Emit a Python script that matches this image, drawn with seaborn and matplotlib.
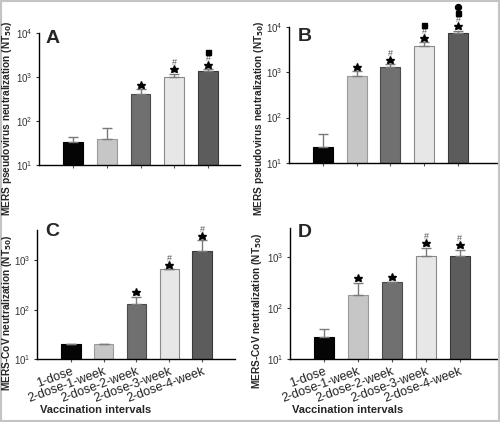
import matplotlib
matplotlib.use("Agg")
import matplotlib.pyplot as plt
import matplotlib.transforms as mtransforms
from matplotlib.patches import Rectangle
from matplotlib.ticker import NullLocator, LogLocator, LogFormatterMathtext
import seaborn as sns
import pandas as pd

sns.set_style("ticks")
plt.rcParams['font.family'] = ['Liberation Sans', 'DejaVu Sans']

# ---------------- data ----------------
intervals = ["1-dose", "2-dose-1-week", "2-dose-2-week", "2-dose-3-week", "2-dose-4-week"]

a_values = [34, 38, 407, 1010, 1350]
a_err_top = [44, 71, 527, 1180, 1510]
a_marks = ["", "", "*", "*#", "*#s"]

b_values = [22, 815, 1290, 3880, 7400]
b_err_top = [43, 1050, 1520, 4650, 8300]
b_marks = ["", "*", "*#", "*#s", "*#so"]

c_values = [20, 20, 132, 665, 1520]
c_err_top = [20, 20, 181, 665, 2550]
c_marks = ["", "", "*", "*#", "*#"]

d_values = [27, 183, 318, 1030, 1030]
d_err_top = [39, 310, 330, 1500, 1390]
d_marks = ["", "*", "*", "*#", "*#"]

bar_colors = ["#050505", "#c6c6c6", "#707070", "#e7e7e7", "#5c5c5c"]
edge_colors = ["#000000", "#9a9a9a", "#4a4a4a", "#8a8a8a", "#3a3a3a"]

ylabel_pseudo = r"MERS pseudovirus neutralization (NT$_{\mathbf{50}}$)"
ylabel_cov = r"MERS-CoV neutralization (NT$_{\mathbf{50}}$)"
xlabel = "Vaccination intervals"

fig = plt.figure(figsize=(5.0, 4.22), dpi=100)

panels = [
    dict(letter="A", vals=a_values, err=a_err_top, marks=a_marks,
         rect=[0.078, 0.609, 0.402, 0.313], ylim=(10, 1e4), xlim=(-1.0, 4.94),
         labels=False),
    dict(letter="B", vals=b_values, err=b_err_top, marks=b_marks,
         rect=[0.578, 0.614, 0.418, 0.322], ylim=(10, 1e4), xlim=(-1.0, 5.18),
         labels=False),
    dict(letter="C", vals=c_values, err=c_err_top, marks=c_marks,
         rect=[0.074, 0.149, 0.396, 0.306], ylim=(10, 4100), xlim=(-1.03, 5.0),
         labels=True),
    dict(letter="D", vals=d_values, err=d_err_top, marks=d_marks,
         rect=[0.580, 0.149, 0.414, 0.311], ylim=(10, 3700), xlim=(-1.0, 5.09),
         labels=True),
]

def offset(ax, dy_px):
    return ax.transData + mtransforms.ScaledTranslation(0, dy_px / 100.0, fig.dpi_scale_trans)

axes = []
for p in panels:
    ax = fig.add_axes(p["rect"])
    axes.append(ax)
    df = pd.DataFrame({"interval": intervals, "value": p["vals"]})
    sns.barplot(data=df, x="interval", y="value", hue="interval", palette=bar_colors,
                legend=False, ax=ax, width=0.59, errorbar=None, saturation=1)
    for patch, ec in zip(ax.patches, edge_colors):
        patch.set_edgecolor(ec)
        patch.set_linewidth(0.8)
    ax.set_yscale("log")
    ax.set_ylim(*p["ylim"])
    ax.set_xlim(*p["xlim"])
    ax.yaxis.set_major_locator(LogLocator(base=10))
    ax.yaxis.set_major_formatter(LogFormatterMathtext())
    ax.yaxis.set_minor_locator(NullLocator())
    # upper error bars
    xs = list(range(len(intervals)))
    lower = [0] * len(xs)
    upper = [max(e - v, 0) for e, v in zip(p["err"], p["vals"])]
    ax.errorbar(xs, p["vals"], yerr=[lower, upper], fmt="none", ecolor="#7a7a7a",
                elinewidth=1.0, capsize=3.5, capthick=1.0, zorder=3)
    # significance symbols
    for x, top, marks in zip(xs, p["err"], p["marks"]):
        dy = 4.5
        for m in marks:
            if m == "*":
                ax.plot([x], [top], marker="*", color="black", markersize=6.2,
                        transform=offset(ax, dy), clip_on=False, zorder=4)
                dy += 6.5
            elif m == "#":
                ax.text(x, top, "#", color="#555555", fontsize=6.5, ha="center", va="center",
                        transform=offset(ax, dy), clip_on=False)
                dy += 6.5
            elif m == "s":
                ax.plot([x], [top], marker="s", color="black", markersize=3.6,
                        transform=offset(ax, dy), clip_on=False, zorder=4)
                dy += 6.5
            elif m == "o":
                ax.plot([x], [top], marker="o", color="black", markersize=4.3,
                        transform=offset(ax, dy), clip_on=False, zorder=4)
                dy += 6.5
    for s in ["top", "right"]:
        ax.spines[s].set_visible(False)
    for s in ["left", "bottom"]:
        ax.spines[s].set_color("black")
        ax.spines[s].set_linewidth(1.0)
    ax.tick_params(axis="y", labelsize=7, colors="#333333", length=2.5, width=0.8, pad=2)
    ax.tick_params(axis="x", length=2.5, width=0.8, colors="#555555")
    ax.set_xlabel("")
    ax.set_ylabel("")
    ax.set_xticks(xs)
    if p["labels"]:
        ax.set_xticklabels(intervals, rotation=20, ha="right", rotation_mode="anchor",
                           fontsize=9, color="#222222")
        ax.tick_params(axis="x", pad=2)
    else:
        ax.set_xticklabels([])

# panel letters
fig.text(46 / 500, 1 - 43 / 422, "A", fontsize=14, fontweight="bold", ha="left", va="baseline")
fig.text(298 / 500, 1 - 41 / 422, "B", fontsize=14, fontweight="bold", ha="left", va="baseline")
fig.text(45 / 500, 1 - 236 / 422, "C", fontsize=14, fontweight="bold", ha="left", va="baseline")
fig.text(298 / 500, 1 - 237 / 422, "D", fontsize=14, fontweight="bold", ha="left", va="baseline")

# y labels
fig.text(7 / 500, 1 - 118 / 422, ylabel_pseudo, rotation=90, fontsize=7.3, fontweight="bold",
         ha="center", va="center")
fig.text(259 / 500, 1 - 118 / 422, ylabel_pseudo, rotation=90, fontsize=7.3, fontweight="bold",
         ha="center", va="center")
fig.text(7 / 500, 1 - 313 / 422, ylabel_cov, rotation=90, fontsize=7.3, fontweight="bold",
         ha="center", va="center")
fig.text(257 / 500, 1 - 311 / 422, ylabel_cov, rotation=90, fontsize=7.3, fontweight="bold",
         ha="center", va="center")

# x labels
fig.text(40 / 500, 1 - 410 / 422, xlabel, fontsize=8, fontweight="bold", ha="left", va="center")
fig.text(292 / 500, 1 - 410 / 422, xlabel, fontsize=8, fontweight="bold", ha="left", va="center")

# outer frame
fig.patches.append(Rectangle((0, 0), 1, 1, transform=fig.transFigure, fill=False,
                             edgecolor="#c4c4c4", linewidth=3))

fig.savefig("out.png", dpi=100)
